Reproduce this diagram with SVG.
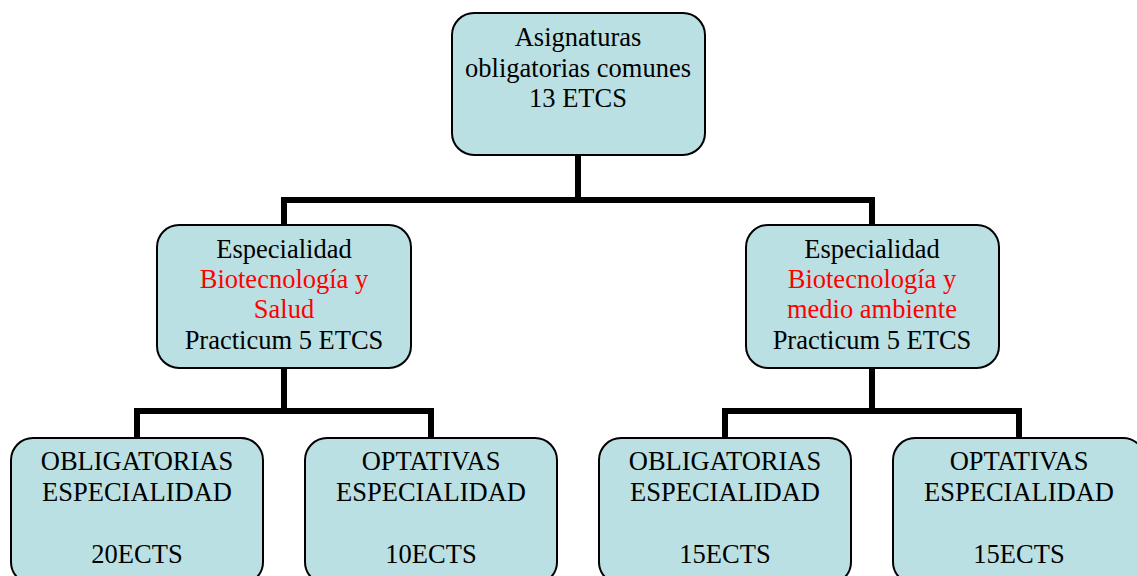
<svg xmlns="http://www.w3.org/2000/svg" width="1137" height="576" viewBox="0 0 1137 576">
<style>
.box{fill:#BBE0E3;stroke:#000;stroke-width:2}
.t{font-family:"Liberation Serif","Times New Roman",serif;font-size:26.5px;fill:#000;text-anchor:middle}
.r{fill:#FF0000}
.c{stroke:#000;stroke-width:6;fill:none;stroke-linecap:butt}
</style>
<rect width="1137" height="576" fill="#fff"/>
<g id="connectors">
<path class="c" d="M578,155 V200 M283,200 H873 M284,197 V226 M872,197 V226"/>
<path class="c" d="M284,368 V411 M137,411 H432 M137,408 V439 M431,408 V439"/>
<path class="c" d="M872,368 V411 M725,411 H1020 M725,408 V439 M1019,408 V439"/>
</g>
<g id="top">
<rect class="box" x="452" y="13" width="253" height="142" rx="22"/>
<text class="t" x="578" y="46">Asignaturas</text>
<text class="t" x="578" y="77">obligatorias comunes</text>
<text class="t" x="578" y="107">13 ETCS</text>
</g>
<g id="esp-salud">
<rect class="box" x="157" y="225" width="254" height="143" rx="22"/>
<text class="t" x="284" y="258">Especialidad</text>
<text class="t r" x="284" y="288">Biotecnología y</text>
<text class="t r" x="284" y="318">Salud</text>
<text class="t" x="284" y="349">Practicum 5 ETCS</text>
</g>
<g id="esp-medio">
<rect class="box" x="746" y="225" width="253" height="143" rx="22"/>
<text class="t" x="872" y="258">Especialidad</text>
<text class="t r" x="872" y="288">Biotecnología y</text>
<text class="t r" x="872" y="318">medio ambiente</text>
<text class="t" x="872" y="349">Practicum 5 ETCS</text>
</g>
<g id="oblig-1">
<rect class="box" x="11" y="438" width="252" height="146" rx="22"/>
<text class="t" x="137" y="470">OBLIGATORIAS</text>
<text class="t" x="137" y="501">ESPECIALIDAD</text>
<text class="t" x="137" y="563">20ECTS</text>
</g>
<g id="opt-1">
<rect class="box" x="305" y="438" width="252" height="146" rx="22"/>
<text class="t" x="431" y="470">OPTATIVAS</text>
<text class="t" x="431" y="501">ESPECIALIDAD</text>
<text class="t" x="431" y="563">10ECTS</text>
</g>
<g id="oblig-2">
<rect class="box" x="599" y="438" width="252" height="146" rx="22"/>
<text class="t" x="725" y="470">OBLIGATORIAS</text>
<text class="t" x="725" y="501">ESPECIALIDAD</text>
<text class="t" x="725" y="563">15ECTS</text>
</g>
<g id="opt-2">
<rect class="box" x="893" y="438" width="252" height="146" rx="22"/>
<text class="t" x="1019" y="470">OPTATIVAS</text>
<text class="t" x="1019" y="501">ESPECIALIDAD</text>
<text class="t" x="1019" y="563">15ECTS</text>
</g>
</svg>
